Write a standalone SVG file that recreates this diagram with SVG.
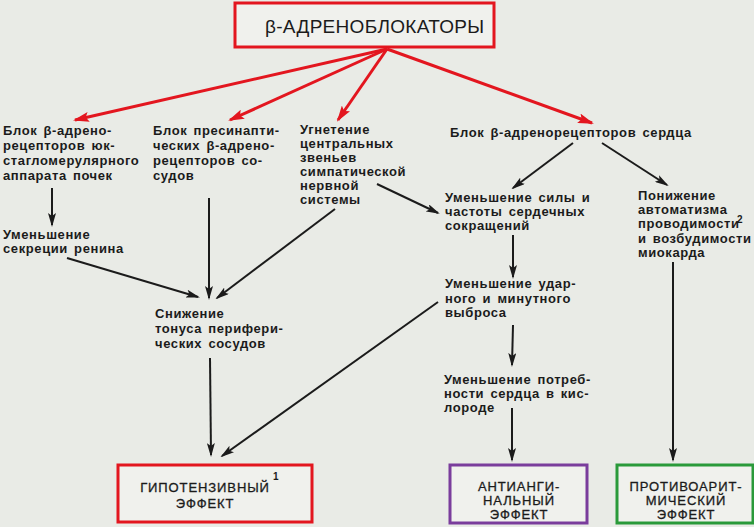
<svg xmlns="http://www.w3.org/2000/svg" width="754" height="527" viewBox="0 0 754 527">
<defs>
<style>
.t{font-family:"Liberation Sans",Arial,sans-serif;font-size:13px;font-weight:bold;fill:#1b1b1b;letter-spacing:0.6px;word-spacing:2px}
.c{font-family:"Liberation Sans",Arial,sans-serif;font-size:13px;fill:#1b1b1b;text-anchor:middle;letter-spacing:0.9px;stroke:#1b1b1b;stroke-width:0.3px}
.sup{font-family:"Liberation Sans",Arial,sans-serif;font-size:10px;font-weight:bold;fill:#1b1b1b}
.k{stroke:#1b1b1b;stroke-width:2;fill:none;marker-end:url(#ab)}
.r{stroke:#e3161f;stroke-width:3;fill:none;marker-end:url(#ar)}
.box{fill:#f0f1ed;stroke-width:3}
</style>
<marker id="ab" markerUnits="userSpaceOnUse" markerWidth="14" markerHeight="8" refX="12" refY="4" orient="auto">
<path d="M0,0 L14,4 L0,8 L3,4 z" fill="#1b1b1b"/>
</marker>
<marker id="ar" markerUnits="userSpaceOnUse" markerWidth="16" markerHeight="10" refX="14" refY="5" orient="auto">
<path d="M0,0 L16,5 L0,10 L3,5 z" fill="#e3161f"/>
</marker>
</defs>
<rect width="754" height="527" fill="#e9ebe6"/>

<g id="top">
<rect class="box" x="235" y="3" width="259" height="44" stroke="#e3161f"/>
<text x="265" y="33" font-family="Liberation Sans,Arial,sans-serif" font-size="19" letter-spacing="0.3" fill="#1b1b1b">β-АДРЕНОБЛОКАТОРЫ</text>
</g>

<g id="n1">
<text class="t" x="3" y="135">Блок  β-адрено-</text>
<text class="t" x="3" y="150">рецепторов  юк-</text>
<text class="t" x="3" y="165">стагломерулярного</text>
<text class="t" x="3" y="180">аппарата почек</text>
</g>
<g id="n2">
<text class="t" x="153" y="135">Блок  пресинапти-</text>
<text class="t" x="153" y="150">ческих β-адрено-</text>
<text class="t" x="153" y="165">рецепторов  со-</text>
<text class="t" x="153" y="180">судов</text>
</g>
<g id="n3">
<text class="t" x="300" y="134">Угнетение</text>
<text class="t" x="300" y="148">центральных</text>
<text class="t" x="300" y="162">звеньев</text>
<text class="t" x="300" y="176">симпатической</text>
<text class="t" x="300" y="190">нервной</text>
<text class="t" x="300" y="204">системы</text>
</g>
<g id="n4">
<text class="t" x="450" y="137">Блок β-адренорецепторов  сердца</text>
</g>
<g id="n5">
<text class="t" x="3" y="239">Уменьшение</text>
<text class="t" x="3" y="253">секреции  ренина</text>
</g>
<g id="n6">
<text class="t" x="155" y="318">Снижение</text>
<text class="t" x="155" y="333">тонуса перифери-</text>
<text class="t" x="155" y="348">ческих сосудов</text>
</g>
<g id="n7">
<text class="t" x="445" y="202">Уменьшение  силы и</text>
<text class="t" x="445" y="216">частоты сердечных</text>
<text class="t" x="445" y="230">сокращений</text>
</g>
<g id="n8">
<text class="t" x="638" y="200">Понижение</text>
<text class="t" x="638" y="214">автоматизма</text>
<text class="t" x="638" y="228" letter-spacing="0">проводимости</text>
<text class="sup" x="737" y="223">2</text>
<text class="t" x="638" y="243">и возбудимости</text>
<text class="t" x="638" y="257">миокарда</text>
</g>
<g id="n9">
<text class="t" x="445" y="288">Уменьшение удар-</text>
<text class="t" x="445" y="303">ного и минутного</text>
<text class="t" x="445" y="317">выброса</text>
</g>
<g id="n10">
<text class="t" x="444" y="384">Уменьшение потреб-</text>
<text class="t" x="444" y="398">ности сердца в кис-</text>
<text class="t" x="444" y="412">лороде</text>
</g>

<g id="e1">
<rect class="box" x="118" y="465" width="194" height="57" stroke="#e3161f"/>
<text class="c" x="205" y="492">ГИПОТЕНЗИВНЫЙ</text>
<text class="sup" x="273" y="480" font-weight="normal">1</text>
<text class="c" x="205" y="508">ЭФФЕКТ</text>
</g>
<g id="e2">
<rect class="box" x="450" y="465" width="137" height="58" stroke="#7a3d9c"/>
<text class="c" x="519" y="491">АНТИАНГИ-</text>
<text class="c" x="519" y="505">НАЛЬНЫЙ</text>
<text class="c" x="519" y="519">ЭФФЕКТ</text>
</g>
<g id="e3">
<rect class="box" x="617" y="465" width="136" height="58" stroke="#2a9a3a"/>
<text class="c" x="686" y="491">ПРОТИВОАРИТ-</text>
<text class="c" x="686" y="505">МИЧЕСКИЙ</text>
<text class="c" x="686" y="519">ЭФФЕКТ</text>
</g>

<g id="connectors">
<line class="r" x1="387" y1="49" x2="75" y2="120"/>
<line class="r" x1="387" y1="49" x2="230" y2="120"/>
<line class="r" x1="387" y1="49" x2="338" y2="120"/>
<line class="r" x1="387" y1="49" x2="592" y2="123"/>
<line class="k" x1="52" y1="188" x2="52" y2="225"/>
<line class="k" x1="67" y1="258" x2="198" y2="297"/>
<line class="k" x1="209" y1="198" x2="209" y2="298"/>
<line class="k" x1="335" y1="209" x2="217" y2="298"/>
<line class="k" x1="377" y1="184" x2="438" y2="213"/>
<line class="k" x1="210" y1="358" x2="211" y2="455"/>
<line class="k" x1="573" y1="143" x2="513" y2="188"/>
<line class="k" x1="602" y1="143" x2="667" y2="185"/>
<line class="k" x1="513" y1="235" x2="513" y2="277"/>
<line class="k" x1="513" y1="325" x2="512" y2="365"/>
<line class="k" x1="512" y1="408" x2="512" y2="460"/>
<line class="k" x1="438" y1="302" x2="222" y2="456"/>
<line class="k" x1="673" y1="262" x2="673" y2="460"/>
</g>
</svg>
